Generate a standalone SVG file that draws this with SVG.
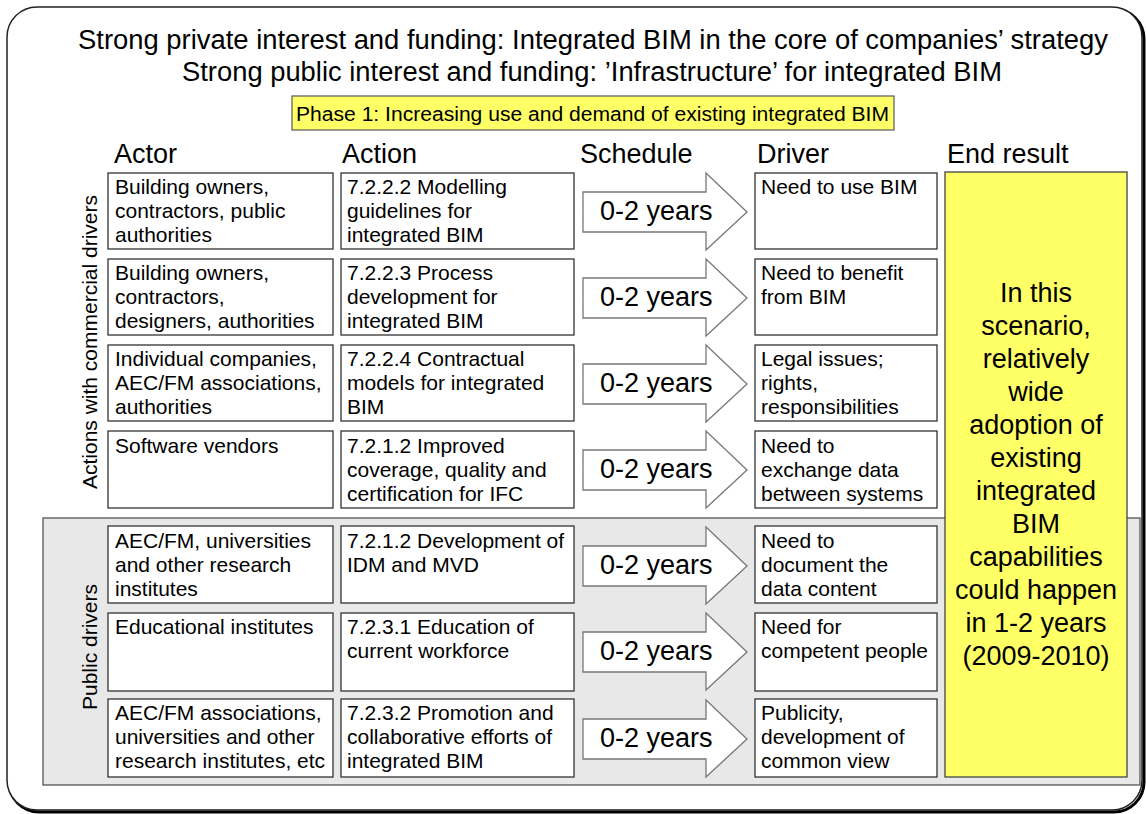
<svg xmlns="http://www.w3.org/2000/svg" width="1146" height="814" viewBox="0 0 1146 814">
<defs>
<style>
text{font-family:"Liberation Sans",Arial,sans-serif;fill:#000}
.t{font-size:27px;text-anchor:middle}
.h{font-size:27px}
.b{font-size:21px}
.v{font-size:21px;text-anchor:middle}
.e{font-size:27px;text-anchor:middle}
.y{font-size:27px}
.box{fill:#fff;stroke:#333;stroke-width:1.3}
.arr{fill:#fff;stroke:#777;stroke-width:1.3}
</style>
</defs>
<rect x="0" y="0" width="1146" height="814" fill="#fff"/>
<g id="frame">
<rect x="9" y="9" width="1135" height="803" rx="30" fill="none" stroke="#000" stroke-width="3"/>
<rect x="7" y="7" width="1135" height="803" rx="30" fill="#fff" stroke="#222" stroke-width="1.5"/>
</g>
<g id="title">
<text class="t" x="593" y="49" textLength="1030" lengthAdjust="spacingAndGlyphs">Strong private interest and funding: Integrated BIM in the core of companies’ strategy</text>
<text class="t" x="592" y="81" textLength="820" lengthAdjust="spacingAndGlyphs">Strong public interest and funding: ’Infrastructure’ for integrated BIM</text>
</g>
<g id="phase">
<rect x="292" y="96" width="602" height="34" fill="#ffff66" stroke="#666" stroke-width="1.3"/>
<text class="b" x="296" y="121" style="font-size:20px" textLength="593" lengthAdjust="spacingAndGlyphs">Phase 1: Increasing use and demand of existing integrated BIM</text>
</g>
<g id="public-band">
<rect x="43" y="518" width="1097" height="267" fill="#e8e8e8" stroke="#555" stroke-width="1.3"/>
</g>
<g id="headers">
<text class="h" x="114" y="163">Actor</text>
<text class="h" x="342" y="163">Action</text>
<text class="h" x="580" y="163">Schedule</text>
<text class="h" x="757" y="163">Driver</text>
<text class="h" x="947" y="163">End result</text>
</g>
<g id="side-labels">
<text class="v" x="97" y="342" transform="rotate(-90 97 342)">Actions with commercial drivers</text>
<text class="v" x="97" y="647" transform="rotate(-90 97 647)">Public drivers</text>
</g>
<g id="end-result">
<rect x="945" y="172" width="182" height="605" fill="#ffff66" stroke="#444" stroke-width="1.3"/>
<text class="e" x="1036" y="302">In this</text>
<text class="e" x="1036" y="335">scenario,</text>
<text class="e" x="1036" y="368">relatively</text>
<text class="e" x="1036" y="401">wide</text>
<text class="e" x="1036" y="434">adoption of</text>
<text class="e" x="1036" y="467">existing</text>
<text class="e" x="1036" y="500">integrated</text>
<text class="e" x="1036" y="533">BIM</text>
<text class="e" x="1036" y="566">capabilities</text>
<text class="e" x="1036" y="599">could happen</text>
<text class="e" x="1036" y="632">in 1-2 years</text>
<text class="e" x="1036" y="665">(2009-2010)</text>
</g>
<g id="row1">
<rect class="box" x="108" y="173" width="225" height="76"/>
<text class="b" x="115" y="194">Building owners,</text><text class="b" x="115" y="218">contractors, public</text><text class="b" x="115" y="242">authorities</text>
<rect class="box" x="341" y="173" width="233" height="76"/>
<text class="b" x="347" y="194">7.2.2.2 Modelling</text><text class="b" x="347" y="218">guidelines for</text><text class="b" x="347" y="242">integrated BIM</text>
<rect class="box" x="755" y="173" width="182" height="76"/>
<text class="b" x="761" y="194">Need to use BIM</text>
</g>
<g id="row2">
<rect class="box" x="108" y="259" width="225" height="76"/>
<text class="b" x="115" y="280">Building owners,</text><text class="b" x="115" y="304">contractors,</text><text class="b" x="115" y="328">designers, authorities</text>
<rect class="box" x="341" y="259" width="233" height="76"/>
<text class="b" x="347" y="280">7.2.2.3 Process</text><text class="b" x="347" y="304">development for</text><text class="b" x="347" y="328">integrated BIM</text>
<rect class="box" x="755" y="259" width="182" height="76"/>
<text class="b" x="761" y="280">Need to benefit</text><text class="b" x="761" y="304">from BIM</text>
</g>
<g id="row3">
<rect class="box" x="108" y="345" width="225" height="76"/>
<text class="b" x="115" y="366">Individual companies,</text><text class="b" x="115" y="390">AEC/FM associations,</text><text class="b" x="115" y="414">authorities</text>
<rect class="box" x="341" y="345" width="233" height="76"/>
<text class="b" x="347" y="366">7.2.2.4 Contractual</text><text class="b" x="347" y="390">models for integrated</text><text class="b" x="347" y="414">BIM</text>
<rect class="box" x="755" y="345" width="182" height="76"/>
<text class="b" x="761" y="366">Legal issues;</text><text class="b" x="761" y="390">rights,</text><text class="b" x="761" y="414">responsibilities</text>
</g>
<g id="row4">
<rect class="box" x="108" y="431" width="225" height="77"/>
<text class="b" x="115" y="453">Software vendors</text>
<rect class="box" x="341" y="431" width="233" height="77"/>
<text class="b" x="347" y="453">7.2.1.2 Improved</text><text class="b" x="347" y="477">coverage, quality and</text><text class="b" x="347" y="501">certification for IFC</text>
<rect class="box" x="755" y="431" width="182" height="77"/>
<text class="b" x="761" y="453">Need to</text><text class="b" x="761" y="477">exchange data</text><text class="b" x="761" y="501">between systems</text>
</g>
<g id="row5">
<rect class="box" x="108" y="526" width="225" height="77"/>
<text class="b" x="115" y="548">AEC/FM, universities</text><text class="b" x="115" y="572">and other research</text><text class="b" x="115" y="596">institutes</text>
<rect class="box" x="341" y="526" width="233" height="77"/>
<text class="b" x="347" y="548">7.2.1.2 Development of</text><text class="b" x="347" y="572">IDM and MVD</text>
<rect class="box" x="755" y="526" width="182" height="77"/>
<text class="b" x="761" y="548">Need to</text><text class="b" x="761" y="572">document the</text><text class="b" x="761" y="596">data content</text>
</g>
<g id="row6">
<rect class="box" x="108" y="613" width="225" height="78"/>
<text class="b" x="115" y="634">Educational institutes</text>
<rect class="box" x="341" y="613" width="233" height="78"/>
<text class="b" x="347" y="634">7.2.3.1 Education of</text><text class="b" x="347" y="658">current workforce</text>
<rect class="box" x="755" y="613" width="182" height="78"/>
<text class="b" x="761" y="634">Need for</text><text class="b" x="761" y="658">competent people</text>
</g>
<g id="row7">
<rect class="box" x="108" y="699" width="225" height="78"/>
<text class="b" x="115" y="720">AEC/FM associations,</text><text class="b" x="115" y="744">universities and other</text><text class="b" x="115" y="768">research institutes, etc</text>
<rect class="box" x="341" y="699" width="233" height="78"/>
<text class="b" x="347" y="720">7.2.3.2 Promotion and</text><text class="b" x="347" y="744">collaborative efforts of</text><text class="b" x="347" y="768">integrated BIM</text>
<rect class="box" x="755" y="699" width="182" height="78"/>
<text class="b" x="761" y="720">Publicity,</text><text class="b" x="761" y="744">development of</text><text class="b" x="761" y="768">common view</text>
</g>
<g id="connectors">
<path class="arr" d="M583,192 H706 V173 L747,212 L706,250 V232 H583 Z"/>
<path class="arr" d="M583,278 H706 V259 L747,298 L706,336 V318 H583 Z"/>
<path class="arr" d="M583,364 H706 V345 L747,384 L706,422 V404 H583 Z"/>
<path class="arr" d="M583,450 H706 V431 L747,470 L706,508 V490 H583 Z"/>
<path class="arr" d="M583,546 H706 V527 L747,566 L706,604 V586 H583 Z"/>
<path class="arr" d="M583,632 H706 V613 L747,652 L706,690 V672 H583 Z"/>
<path class="arr" d="M583,719 H706 V700 L747,739 L706,777 V759 H583 Z"/>
<text class="y" x="600" y="220">0-2 years</text>
<text class="y" x="600" y="306">0-2 years</text>
<text class="y" x="600" y="392">0-2 years</text>
<text class="y" x="600" y="478">0-2 years</text>
<text class="y" x="600" y="574">0-2 years</text>
<text class="y" x="600" y="660">0-2 years</text>
<text class="y" x="600" y="747">0-2 years</text>
</g>
</svg>
